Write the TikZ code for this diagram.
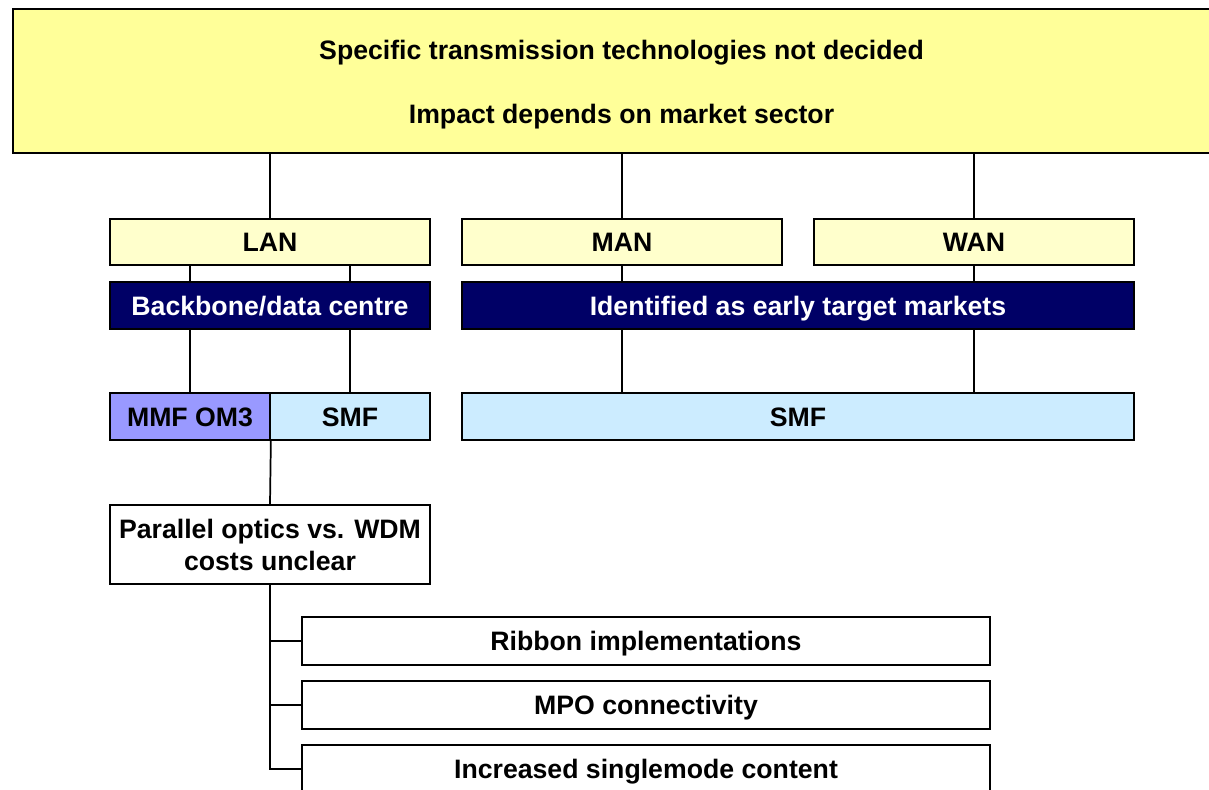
\documentclass[tikz,border=0pt]{standalone}
\usepackage{fontspec}
\setmainfont{Liberation Sans}
\usepackage{xcolor}
\usetikzlibrary{positioning,calc}

\definecolor{topyellow}{HTML}{FFFF99}
\definecolor{netyellow}{HTML}{FFFFCC}
\definecolor{navy}{HTML}{000066}
\definecolor{mmfblue}{HTML}{9999FF}
\definecolor{smfblue}{HTML}{CCECFF}

\begin{document}
\begin{tikzpicture}[x=0.75pt, y=-0.75pt, line width=1.3pt, font=\fontsize{20}{24}\selectfont\bfseries]
    % Styles
    \tikzstyle{box} = [draw, rectangle, inner sep=0pt, minimum height=35pt, align=center]
    \tikzstyle{one} = [box, text height=14.3pt, text depth=0pt]
    \tikzstyle{net} = [one, fill=netyellow, minimum width=240pt]
    \tikzstyle{dark} = [one, fill=navy, text=white]
    \tikzstyle{fibre} = [one, fill=smfblue]
    \tikzstyle{item} = [one, fill=white, minimum width=516pt, minimum height=36pt]
    \tikzstyle{plain} = [inner sep=0pt, text height=14.3pt, text depth=0pt]

    \useasboundingbox (0,0) rectangle (1209,789);

    % Top banner (runs off the right edge)
    \node[box, fill=topyellow, minimum width=912.75pt, minimum height=108pt] (top) at (621.5, 81) {};
    \node[plain] (topline) at (621.5, 50) {Specific transmission technologies not decided};
    \node[plain] (impact) at (621.5, 114) {Impact depends on market sector};

    % Market sectors
    \node[net] (lan) at (270, 242) {LAN};
    \node[net] (man) at (622, 242) {MAN};
    \node[net] (wan) at (974, 242) {WAN};

    % Dark bars
    \node[dark, minimum width=240pt] (bb) at (270, 305.5) {Backbone/data centre};
    \node[dark, minimum width=504pt] (early) at (798, 305.5) {Identified as early target markets};

    % Fibre types
    \node[fibre, fill=mmfblue, minimum width=120pt] (mmf) at (190, 416.5) {MMF OM3};
    \node[fibre, minimum width=120pt] (smf) at (350, 416.5) {SMF};
    \node[fibre, minimum width=504pt] (smfw) at (798, 416.5) {SMF};

    % Cost question and its items
    \node[box, fill=white, minimum width=240pt, minimum height=59.25pt] (par) at (270, 544.5) {};
    \node[plain] (parline) at (270, 529) {Parallel optics vs. WDM};
    \node[plain] (costs) at (270, 561) {costs unclear};
    \node[item] (ribbon) at (646, 641) {Ribbon implementations};
    \node[item] (mpo) at (646, 705) {MPO connectivity};
    \node[item] (single) at (646, 769) {Increased singlemode content};

    % Banner to sectors
    \foreach \n in {lan,man,wan}
        \draw (top.south -| \n) -- (\n.north);

    % Sectors to dark bars
    \draw (lan.south -| mmf) -- (bb.north -| mmf);
    \draw (lan.south -| smf) -- (bb.north -| smf);
    \draw (man.south) -- (early.north -| man);
    \draw (wan.south) -- (early.north -| wan);

    % Dark bars to fibres
    \draw (bb.south -| mmf) -- (mmf.north);
    \draw (bb.south -| smf) -- (smf.north);
    \draw (early.south -| man) -- (smfw.north -| man);
    \draw (early.south -| wan) -- (smfw.north -| wan);

    % MMF to cost question, then the list
    \draw (mmf.south east) -- (par.north);
    \draw (par.south) |- (single.west);
    \foreach \i in {ribbon,mpo}
        \draw (\i.west -| par.south) -- (\i.west);
\end{tikzpicture}
\end{document}
